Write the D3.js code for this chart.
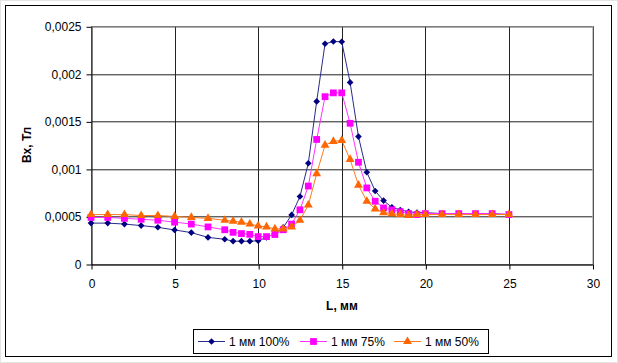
<!DOCTYPE html>
<html>
<head>
<meta charset="utf-8">
<script src="https://cdn.jsdelivr.net/npm/d3@7"></script>
<style>
  body { margin: 0; background: #fff; }
  text { font-family: "Liberation Sans", Arial, sans-serif; }
</style>
</head>
<body>
<div id="okvir"></div>
<script>
// x positions, mm
const xVals = [0, 1, 2, 3, 4, 5, 6, 7, 8, 8.5, 9, 9.5, 10, 10.5, 11, 11.5, 12, 12.5, 13, 13.5,
  14, 14.5, 15, 15.5, 16, 16.5, 17, 17.5, 18, 18.5, 19, 19.5, 20, 21, 22, 23, 24, 25]

const s100 = [0.00043, 0.00043, 0.00042, 0.000404, 0.000386, 0.000358, 0.00033, 0.00028, 0.00026,
  0.00024, 0.00024, 0.00024, 0.000244, 0.00028, 0.00032, 0.000385, 0.000516, 0.00071, 0.00106, 0.00171,
  0.002316, 0.00234, 0.002337, 0.00191, 0.00134, 0.000965, 0.000768, 0.000667, 0.000596, 0.000568,
  0.00055, 0.00054, 0.00054, 0.00053, 0.00053, 0.00053, 0.00053, 0.00052]

const s75 = [0.00049, 0.00049, 0.00048, 0.00047, 0.00046, 0.00044, 0.00042, 0.00039, 0.00036,
  0.000333, 0.00032, 0.000312, 0.000288, 0.000288, 0.00031, 0.00036, 0.00042, 0.00057, 0.00082, 0.00131,
  0.00176, 0.0018, 0.0018, 0.00148, 0.00107, 0.0008, 0.00066, 0.00059, 0.00057, 0.00055,
  0.00053, 0.00052, 0.00053, 0.00053, 0.00053, 0.00053, 0.00053, 0.00052]

const s50 = [0.00052, 0.00052, 0.00052, 0.00051, 0.00051, 0.0005, 0.00049, 0.00048, 0.00046,
  0.00045, 0.00044, 0.00042, 0.0004, 0.00039, 0.00037, 0.00037, 0.00039, 0.00046, 0.00062, 0.00095,
  0.00125, 0.00129, 0.0013, 0.0011, 0.00083, 0.00066, 0.00058, 0.00054, 0.00053, 0.00052,
  0.00051, 0.00052, 0.00052, 0.00052, 0.00052, 0.00052, 0.00052, 0.00052]

const seriesNames = ["1 мм 100%", "1 мм 75%", "1 мм 50%"]
const xTicks = [0, 5, 10, 15, 20, 25, 30]
const yTicks = [0, 0.0005, 0.001, 0.0015, 0.002, 0.0025]

// rotated square for the diamonds (excel style)
const series = [
  { name: seriesNames[0], vals: s100, color: "#000080", line: "#2a2a8a", shape: d3.symbolSquare, size: 22, rot: 45 },
  { name: seriesNames[1], vals: s75, color: "#ff00ff", line: "#ff33ff", shape: d3.symbolSquare, size: 46, rot: 0 },
  { name: seriesNames[2], vals: s50, color: "#ff6600", line: "#ff7a20", shape: d3.symbolTriangle, size: 34, rot: 0 },
]

const sirina = 618, visina = 363
const margine = { left: 91, top: 26.3, right: 618 - 592.5, bottom: 363 - 264 }
const grSirina = sirina - margine.left - margine.right
const grVisina = visina - margine.top - margine.bottom

const okvir = d3.select("#okvir").append("svg")
  .attr("width", sirina).attr("height", visina)

// chart border
okvir.append("rect").attr("x", 0.5).attr("y", 0.5).attr("width", sirina - 1).attr("height", visina - 1)
  .attr("fill", "none").attr("stroke", "#e4e4e4")
okvir.append("rect").attr("x", 5.5).attr("y", 5.5).attr("width", 606).attr("height", 351)
  .attr("fill", "#fff").attr("stroke", "#000")

const granice = okvir.append("g")
  .attr("transform", `translate(${margine.left},${margine.top})`)

const xSkala = d3.scaleLinear().domain([0, 30]).range([0, grSirina])
const ySkala = d3.scaleLinear().domain([0, 0.0025]).range([grVisina, 0])

// grid
granice.append("g").selectAll("line").data(yTicks).join("line")
  .attr("x1", 0).attr("x2", grSirina)
  .attr("y1", d => Math.round(ySkala(d)) + 0.5).attr("y2", d => Math.round(ySkala(d)) + 0.5)
  .attr("stroke", "#222")
granice.append("g").selectAll("line").data(xTicks).join("line")
  .attr("y1", 0).attr("y2", grVisina)
  .attr("x1", d => Math.round(xSkala(d)) + 0.5).attr("x2", d => Math.round(xSkala(d)) + 0.5)
  .attr("stroke", "#222")

granice.append("rect").attr("x", 0.5).attr("y", 0.5)
  .attr("width", grSirina).attr("height", grVisina)
  .attr("fill", "none").attr("stroke", "#888")

const fmt = d => String(d).replace(".", ",")

const xOs = granice.append("g")
  .attr("transform", `translate(0.5,${grVisina + 0.5})`)
  .call(d3.axisBottom(xSkala).tickValues(xTicks).tickSize(5).tickSizeOuter(0).tickPadding(10))
const yOs = granice.append("g")
  .attr("transform", "translate(0.5,0.5)")
  .call(d3.axisLeft(ySkala).tickValues(yTicks).tickFormat(fmt).tickSize(5).tickSizeOuter(0).tickPadding(5))
;[xOs, yOs].forEach(os => {
  os.select(".domain").attr("stroke", "#000")
  os.selectAll(".tick line").attr("stroke", "#000")
  os.selectAll("text").style("font-size", "12px").attr("fill", "#000")
    .style("font-family", "'Liberation Sans', Arial, sans-serif")
})

// series
const lineGen = (vals) => d3.line()
  .x((d, i) => xSkala(xVals[i]))
  .y(d => ySkala(d))(vals)

series.forEach(s => {
  granice.append("path").attr("d", lineGen(s.vals))
    .attr("fill", "none").attr("stroke", s.line).attr("stroke-width", 1)
  granice.append("g").selectAll("path").data(s.vals).join("path")
    .attr("transform", (d, i) => `translate(${xSkala(xVals[i])},${ySkala(d)}) rotate(${s.rot})`)
    .attr("d", d3.symbol().type(s.shape).size(s.size))
    .attr("fill", s.color)
})

// axis labels
okvir.append("text")
  .attr("x", 342).attr("y", 310)
  .attr("text-anchor", "middle").style("font-size", "12px").style("font-weight", "bold")
  .text("L, мм")
okvir.append("text")
  .attr("transform", "translate(31,145) rotate(-90)")
  .attr("text-anchor", "middle").style("font-size", "12px").style("font-weight", "bold")
  .text("Bx, Тл")

// legend
const leg = okvir.append("g")
leg.append("rect").attr("x", 193.5).attr("y", 329.5).attr("width", 295).attr("height", 24)
  .attr("fill", "#fff").attr("stroke", "#000")
const legX = [198, 300, 394]
series.forEach((s, i) => {
  const g = leg.append("g").attr("transform", `translate(${legX[i]},341.5)`)
  g.append("line").attr("x1", 0).attr("x2", 27).attr("stroke", s.line)
  g.append("path").attr("transform", `translate(13.5,0) rotate(${s.rot})`)
    .attr("d", d3.symbol().type(s.shape).size(s.size)).attr("fill", s.color)
  g.append("text").attr("x", 31).attr("y", 4.5).style("font-size", "12px").text(s.name)
})
</script>
</body>
</html>
